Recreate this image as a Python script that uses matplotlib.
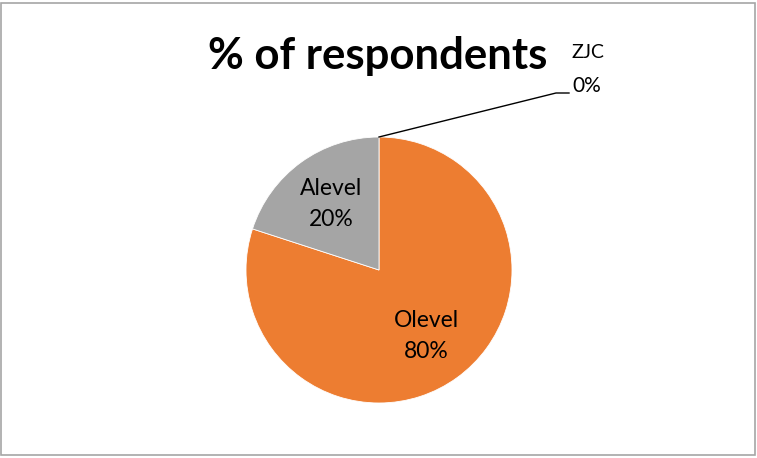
import numpy as np
import matplotlib.pyplot as plt

categories = ["ZJC", "Olevel", "Alevel"]
values = [0, 80, 20]
colors = ["#4472C4", "#ED7D31", "#A5A5A5"]

W, H = 757, 458
fig = plt.figure(figsize=(W / 100, H / 100), dpi=100)
plt.rcParams['font.family'] = ['Lato', 'DejaVu Sans']

# pie centre and radius in pixels
cx, cy, r = 379, 270, 133
ax = fig.add_axes([(cx - r) / W, (H - cy - r) / H, 2 * r / W, 2 * r / H])
wedges, _ = ax.pie(values, colors=colors, startangle=90, counterclock=False,
                   radius=1, wedgeprops=dict(edgecolor="white", linewidth=0.6))
ax.set_xlim(-1, 1)
ax.set_ylim(-1, 1)
ax.set_axis_off()

total = float(sum(values))
for w, name, v in zip(wedges, categories, values):
    pct = "%d%%" % round(100 * v / total)
    if v == 0:
        # leader line from the wedge edge to the outside label
        ang = np.deg2rad(w.theta1)
        x0, y0 = np.cos(ang), np.sin(ang)
        p0 = ax.transData.transform((x0, y0))
        p0 = fig.transFigure.inverted().transform(p0)
        fig.add_artist(plt.Line2D([p0[0], 556 / W, 569 / W],
                                  [p0[1], 1 - 93 / H, 1 - 93 / H],
                                  color="black", lw=1.0))
        fig.text(588 / W, 1 - 52 / H, name, ha="center", va="center", fontsize=14)
        fig.text(587 / W, 1 - 86 / H, pct, ha="center", va="center", fontsize=15)
        continue
    mid = np.deg2rad((w.theta1 + w.theta2) / 2)
    d = 0.61
    ax.text(d * np.cos(mid), d * np.sin(mid), name + "\n" + pct,
            ha="center", va="center", fontsize=16.5, linespacing=1.6)

fig.text(378 / W, 1 - 56 / H, "% of respondents", ha="center", va="center",
         fontsize=31.5, fontweight="bold")

# chart border
fig.add_artist(plt.Rectangle((1 / W, 3 / H), (W - 3) / W, (H - 6) / H,
                             transform=fig.transFigure, fill=False,
                             edgecolor="#A6A6A6", lw=1.2))

fig.savefig("out.png", dpi=100)
